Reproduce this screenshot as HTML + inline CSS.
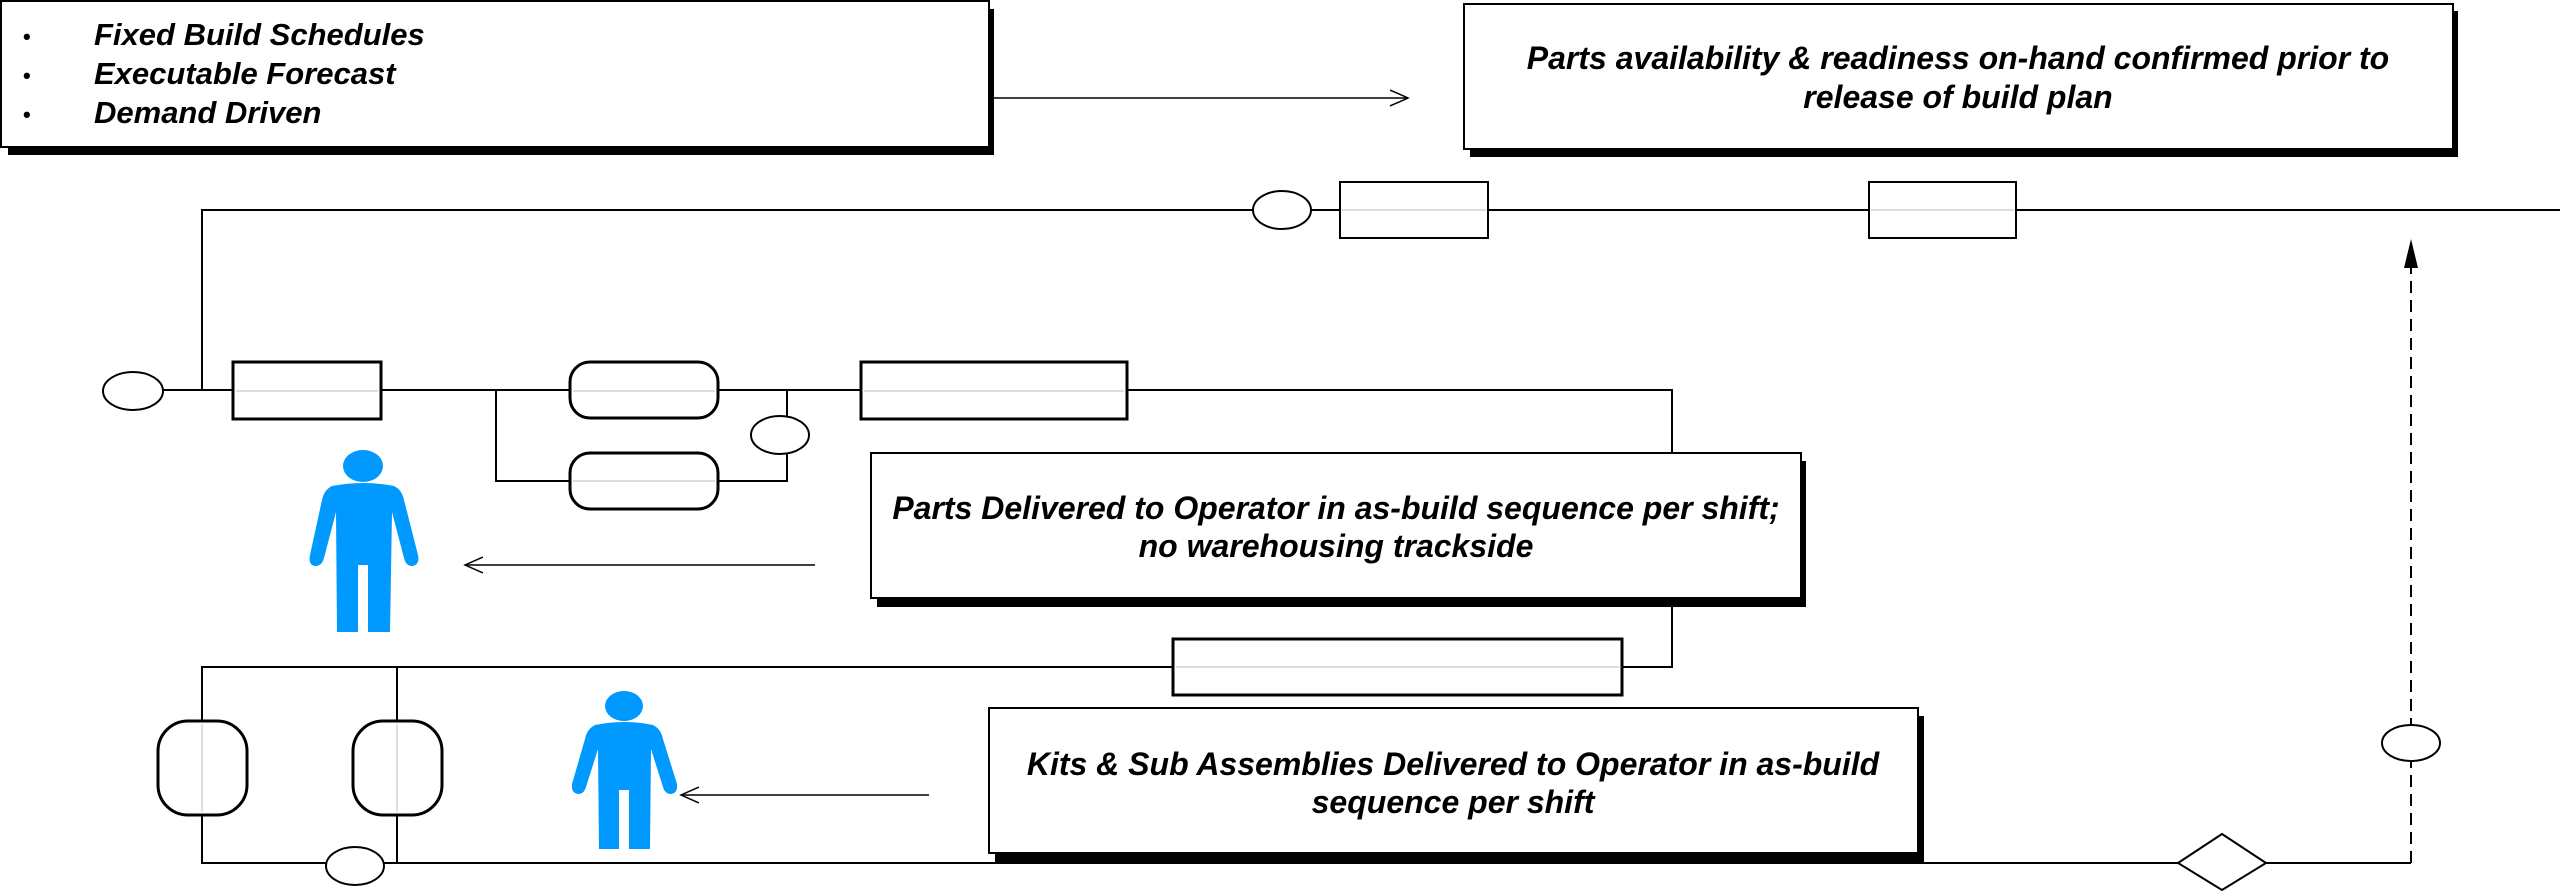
<!DOCTYPE html>
<html><head><meta charset="utf-8"><style>
html,body{margin:0;padding:0;background:#fff;}
svg{display:block;}
text{font-family:"Liberation Sans",Arial,sans-serif;font-weight:bold;font-style:italic;font-size:32px;fill:#000;}
</style></head><body>
<svg width="2560" height="892" viewBox="0 0 2560 892" xmlns="http://www.w3.org/2000/svg">
<defs>
<marker id="open" markerWidth="20" markerHeight="20" refX="18" refY="10" orient="auto" markerUnits="userSpaceOnUse">
<path d="M0,2 L18,10 L0,18" fill="none" stroke="#000" stroke-width="1.5"/></marker>
</defs>
<g stroke="#000" fill="none" stroke-width="2">
<rect x="8" y="9" width="986" height="146" fill="#000" stroke="none"/>
<rect x="1" y="1" width="988" height="146" fill="#fff"/>
<rect x="1470" y="11" width="988" height="146" fill="#000" stroke="none"/>
<rect x="1464" y="4" width="989" height="145" fill="#fff"/>
<line x1="990" y1="98" x2="1408" y2="98" stroke-width="1.5" marker-end="url(#open)"/>
<polyline points="202,390 202,210 2560,210"/>
<ellipse cx="1282" cy="210" rx="29" ry="19" fill="#fff"/>
<rect x="1340" y="182" width="148" height="56" fill="#fff"/>
<rect x="1869" y="182" width="147" height="56" fill="#fff"/>
<line x1="2411" y1="863" x2="2411" y2="242" stroke-dasharray="12,7" stroke-width="2"/>
<path d="M2411,239 L2418,268 L2404,268 Z" fill="#000" stroke="none"/>
<ellipse cx="2411" cy="743" rx="29" ry="18" fill="#fff"/>
<polyline points="163,390 1672,390 1672,667 1622,667"/>
<polyline points="496,390 496,481 787,481 787,390"/>
<ellipse cx="133" cy="391" rx="30" ry="19" fill="#fff"/>
<rect x="233" y="362" width="148" height="57" fill="#fff" stroke-width="3"/>
<rect x="570" y="362" width="148" height="56" rx="20" fill="#fff" stroke-width="3"/>
<rect x="570" y="453" width="148" height="56" rx="20" fill="#fff" stroke-width="3"/>
<ellipse cx="780" cy="435" rx="29" ry="19" fill="#fff"/>
<rect x="861" y="362" width="266" height="57" fill="#fff" stroke-width="3"/>
<rect x="877" y="461" width="929" height="146" fill="#000" stroke="none"/>
<rect x="871" y="453" width="930" height="145" fill="#fff"/>
<line x1="815" y1="565" x2="465" y2="565" stroke-width="1.5" marker-end="url(#open)"/>
<polyline points="1173,667 202,667 202,863 2411,863"/>
<line x1="397" y1="667" x2="397" y2="863"/>
<rect x="1173" y="639" width="449" height="56" fill="#fff" stroke-width="3"/>
<rect x="158" y="721" width="89" height="94" rx="30" fill="#fff" stroke-width="3"/>
<rect x="353" y="721" width="89" height="94" rx="30" fill="#fff" stroke-width="3"/>
<ellipse cx="355" cy="866" rx="29" ry="19" fill="#fff"/>
<rect x="995" y="716" width="929" height="146" fill="#000" stroke="none"/>
<rect x="989" y="708" width="929" height="145" fill="#fff"/>
<line x1="929" y1="795" x2="681" y2="795" stroke-width="1.5" marker-end="url(#open)"/>
<path d="M2178,863 L2222,834 L2266,863 L2222,890 Z" fill="#fff"/>
</g>
<g stroke="#ddd" stroke-width="2">
<line x1="1342" y1="210" x2="1486" y2="210"/><line x1="1871" y1="210" x2="2014" y2="210"/>
<line x1="236" y1="391" x2="378" y2="391"/><line x1="573" y1="391" x2="715" y2="391"/>
<line x1="573" y1="481" x2="715" y2="481"/><line x1="864" y1="391" x2="1124" y2="391"/>
<line x1="1176" y1="667" x2="1619" y2="667"/>
<line x1="202" y1="724" x2="202" y2="812"/><line x1="397" y1="724" x2="397" y2="812"/>
</g>
<g fill="#0099ff">
<ellipse cx="363" cy="466" rx="20" ry="16"/>
<path d="M332,486 Q363,480 394,486 Q402,490 404,500 L418,555 Q420,565 412,566 Q406,566 404,558 L392,512 L390,632 L368,632 L368,565 L358,565 L358,632 L337,632 L336,512 L324,558 Q322,566 315,566 Q308,565 310,555 L322,500 Q324,490 332,486 Z"/>
<ellipse cx="624" cy="706" rx="19" ry="15"/>
<path d="M595,725 Q624,719 653,725 Q661,729 663,739 L677,784 Q678,793 671,794 Q665,794 663,787 L651,749 L650,849 L629,849 L629,790 L619,790 L619,849 L599,849 L598,749 L586,787 Q584,794 578,794 Q571,793 572,784 L585,739 Q587,729 595,725 Z"/>
</g>
<text x="23" y="44" style="font-style:normal;font-size:22px">•</text>
<text x="23" y="83" style="font-style:normal;font-size:22px">•</text>
<text x="23" y="122" style="font-style:normal;font-size:22px">•</text>
<text x="94" y="45" style="font-size:31px">Fixed Build Schedules</text>
<text x="94" y="84" style="font-size:31px">Executable Forecast</text>
<text x="94" y="123" style="font-size:31px">Demand Driven</text>
<text x="1958" y="69" text-anchor="middle">Parts availability &amp; readiness on-hand confirmed prior to</text>
<text x="1958" y="108" text-anchor="middle">release of build plan</text>
<text x="1336" y="519" text-anchor="middle">Parts Delivered to Operator in as-build sequence per shift;</text>
<text x="1336" y="557" text-anchor="middle">no warehousing trackside</text>
<text x="1453" y="775" text-anchor="middle">Kits &amp; Sub Assemblies Delivered to Operator in as-build</text>
<text x="1453" y="813" text-anchor="middle">sequence per shift</text>
</svg>
</body></html>
